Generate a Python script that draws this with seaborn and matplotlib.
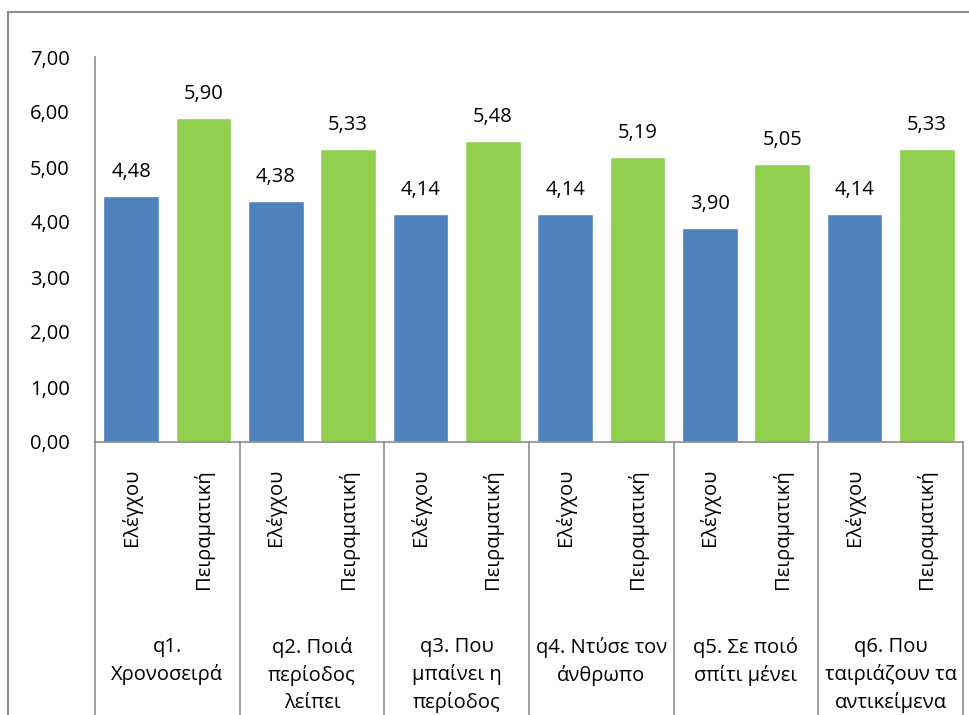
import matplotlib
matplotlib.use("Agg")
import matplotlib.pyplot as plt
import matplotlib.transforms as mtransforms
from matplotlib.patches import Rectangle
import seaborn as sns
import pandas as pd

# ---- data ----
questions = ["q1", "q2", "q3", "q4", "q5", "q6"]
question_labels = [
    "q1.\nΧρονοσειρά",
    "q2. Ποιά\nπερίοδος\nλείπει",
    "q3. Που\nμπαίνει η\nπερίοδος",
    "q4. Ντύσε τον\nάνθρωπο",
    "q5. Σε ποιό\nσπίτι μένει",
    "q6. Που\nταιριάζουν τα\nαντικείμενα",
]
groups = ["Ελέγχου", "Πειραματική"]
control_values = [4.48, 4.38, 4.14, 4.14, 3.90, 4.14]
experimental_values = [5.90, 5.33, 5.48, 5.19, 5.05, 5.33]
y_ticks = [0, 1, 2, 3, 4, 5, 6, 7]

rows = []
for q, c, e in zip(questions, control_values, experimental_values):
    rows.append({"question": q, "group": groups[0], "value": c})
    rows.append({"question": q, "group": groups[1], "value": e})
df = pd.DataFrame(rows)

sns.set_theme(style="white")
FONT = ["Open Sans", "DejaVu Sans"]
plt.rcParams["font.family"] = FONT
FS = 14.5

W, H = 970, 715
fig = plt.figure(figsize=(W / 100, H / 100), dpi=100)
left, right, top, bottom = 95, 963, 57, 442
ax = fig.add_axes([left / W, 1 - bottom / H, (right - left) / W, (bottom - top) / H])

colors = ["#4F81BD", "#92D050"]
sns.barplot(data=df, x="question", y="value", hue="group", order=questions,
            hue_order=groups, palette=colors, width=1.0, gap=0.23,
            saturation=1, ax=ax, legend=False)

ax.set_ylim(0, 7)
ax.set_xlim(-0.5, len(questions) - 0.5)
ax.set_yticks(y_ticks)
ax.set_yticklabels([f"{v:.2f}".replace(".", ",") for v in y_ticks], fontsize=FS, color="black")
ax.tick_params(axis="y", length=0, pad=18)
ax.set_xticks([])
ax.set_xlabel("")
ax.set_ylabel("")
for s in ["top", "right"]:
    ax.spines[s].set_visible(False)
for s in ["left", "bottom"]:
    ax.spines[s].set_color("#8C8C8C")
    ax.spines[s].set_linewidth(1.2)

# data labels
for cont, vals in zip(ax.containers, [control_values, experimental_values]):
    ax.bar_label(cont, labels=[f"{v:.2f}".replace(".", ",") for v in vals],
                 padding=10, fontsize=FS, color="black")

axh = bottom - top
# vertical separators below axis
trans = mtransforms.blended_transform_factory(ax.transData, ax.transAxes)
for i in range(len(questions) + 1):
    ax.plot([i - 0.5, i - 0.5], [0, -(H - bottom + 10) / axh], transform=trans,
            color="#8C8C8C", lw=1.2, clip_on=False)

# rotated group labels under each bar
for cont, g in zip(ax.containers, groups):
    for p in cont.patches:
        xc = p.get_x() + p.get_width() / 2
        ax.text(xc, -(469 - bottom) / axh, g, rotation=90, ha="center", va="top",
                transform=trans, fontsize=FS, color="black")

# question labels
for i, lab in enumerate(question_labels):
    ax.text(i, -(637 - bottom) / axh, lab, ha="center", va="top", transform=trans,
            fontsize=FS, color="black", linespacing=1.45)

# outer chart border
fig.patches.append(Rectangle((8 / W, -0.1), 1.2, 1 - 12 / H + 0.1, transform=fig.transFigure,
                             fill=False, edgecolor="#8C8C8C", lw=1.5))

fig.savefig("out.png", dpi=100)
